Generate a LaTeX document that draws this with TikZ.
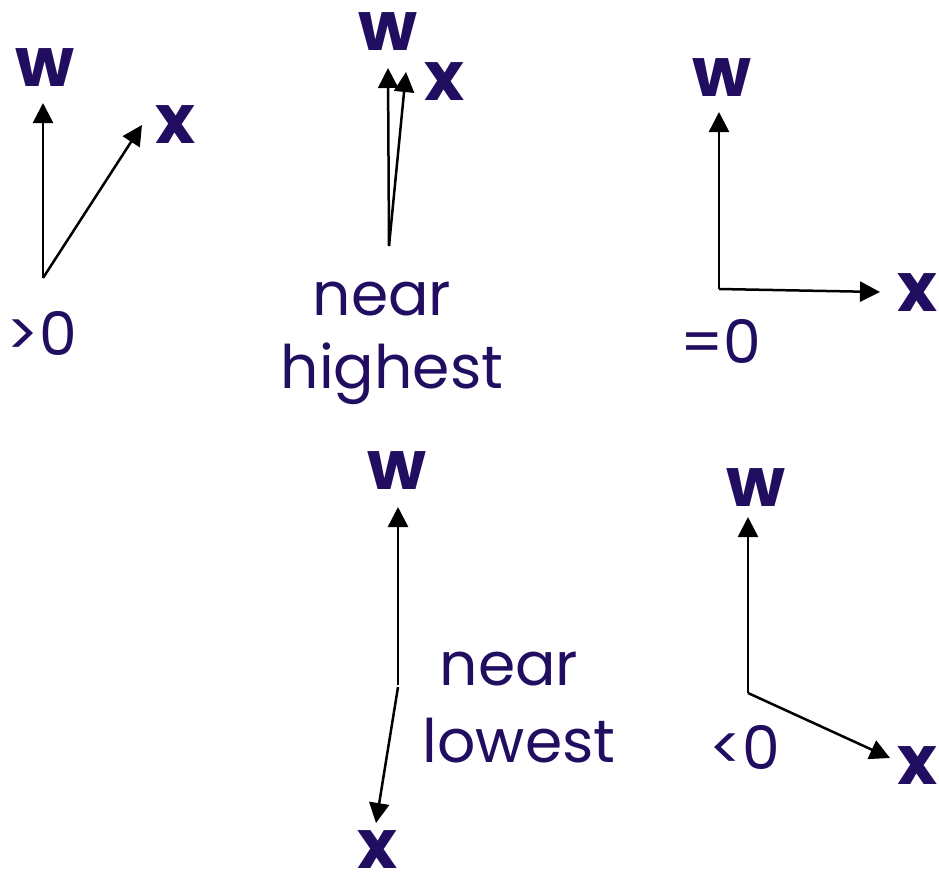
\documentclass[tikz,border=0pt]{standalone}
\usepackage{fontspec}
\setmainfont{Poppins}
\usetikzlibrary{arrows.meta}
\definecolor{ink}{RGB}{33,14,96}
\tikzset{
  vec/.style={line width=2.5pt, black, -{Triangle[length=20pt,width=20pt]}},
  sym/.style={inner sep=0pt, text=ink, font=\fontsize{68}{70}\selectfont\bfseries},
  lbl/.style={inner sep=0pt, text=ink, font=\fontsize{60}{66}\selectfont, anchor=base},
  val/.style={inner sep=0pt, text=ink, font=\fontsize{60}{66}\selectfont}
}
\begin{document}
\begin{tikzpicture}[x=1pt,y=-1pt]
\useasboundingbox (0,0) rectangle (939,883);
% panel 1
\coordinate (o1) at (43,278);
\coordinate (w1) at (43,103);
\coordinate (x1) at (142,125);
\draw[vec] (o1) -- (w1);
\draw[vec] (o1) -- (x1);
\node[sym] (lw1) at (45,68) {w};
\node[sym] (lx1) at (175,125) {x};
\node[val] (v1) at (42,333) {>0};
% panel 2
\coordinate (o2) at (389,246);
\coordinate (w2) at (388,68);
\coordinate (x2) at (406,72);
\draw[vec] (o2) -- (w2);
\draw[vec] (o2) -- (x2);
\node[sym] (lw2) at (388,32) {w};
\node[sym] (lx2) at (444,82) {x};
\node[lbl] (n2) at (382,315) {near};
\node[lbl] (h2) at (392,388) {highest};
% panel 3
\coordinate (o3) at (719,289);
\coordinate (w3) at (719,112);
\coordinate (x3) at (880,292);
\draw[vec] (o3) -- (w3);
\draw[vec] (o3) -- (x3);
\node[sym] (lw3) at (722,78) {w};
\node[sym] (lx3) at (917,293) {x};
\node[val] (v3) at (721,341) {=0};
% panel 4
\coordinate (o4) at (398,685);
\coordinate (o4b) at (398,687);
\coordinate (w4) at (398,507);
\coordinate (x4) at (376,823);
\draw[vec] (o4) -- (w4);
\draw[vec] (o4b) -- (x4);
\node[sym] (lw4) at (397,471) {w};
\node[sym] (lx4) at (377,850) {x};
\node[lbl] (n4) at (509,685) {near};
\node[lbl] (l4) at (519,762) {lowest};
% panel 5
\coordinate (o5) at (748,693);
\coordinate (w5) at (748,517);
\coordinate (x5) at (890,758);
\draw[vec] (o5) -- (w5);
\draw[vec] (o5) -- (x5);
\node[sym] (lw5) at (756,488) {w};
\node[sym] (lx5) at (917,766) {x};
\node[val] (v5) at (745,747) {<0};
\end{tikzpicture}
\end{document}
